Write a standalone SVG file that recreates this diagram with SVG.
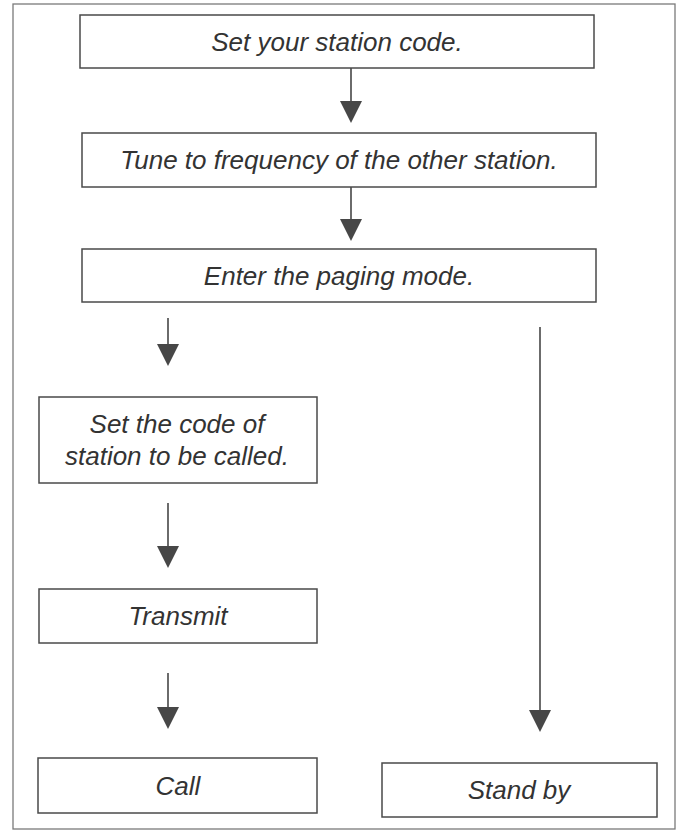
<svg xmlns="http://www.w3.org/2000/svg" width="683" height="832" viewBox="0 0 683 832">
  <style>
    .frame { fill: none; stroke: #7a7a7a; stroke-width: 1.3; }
    .box { fill: #ffffff; stroke: #4a4a4a; stroke-width: 1.5; }
    .lbl { font-family: "Liberation Sans", Arial, sans-serif; font-style: italic; font-size: 26px; fill: #333333; text-anchor: middle; }
    .conn { stroke: #474747; stroke-width: 1.6; fill: none; }
    .head { fill: #474747; stroke: none; }
  </style>
  <rect x="0" y="0" width="683" height="832" fill="#ffffff"/>
  <rect class="frame" x="13" y="4" width="662" height="825"/>

  <g id="connectors">
    <line class="conn" x1="351" y1="68" x2="351" y2="104"/>
    <polygon class="head" points="340,101 362,101 351,123"/>
    <line class="conn" x1="351" y1="187" x2="351" y2="222"/>
    <polygon class="head" points="340,219 362,219 351,241"/>
    <line class="conn" x1="168" y1="318" x2="168" y2="347"/>
    <polygon class="head" points="157,344 179,344 168,366"/>
    <line class="conn" x1="168" y1="503" x2="168" y2="549"/>
    <polygon class="head" points="157,546 179,546 168,568"/>
    <line class="conn" x1="168" y1="673" x2="168" y2="710"/>
    <polygon class="head" points="157,707 179,707 168,729"/>
    <line class="conn" x1="540" y1="327" x2="540" y2="713"/>
    <polygon class="head" points="529,710 551,710 540,732"/>
  </g>

  <g id="node-set-station-code">
    <rect class="box" x="80" y="15" width="514" height="53"/>
    <text class="lbl" x="337" y="51">Set your station code.</text>
  </g>
  <g id="node-tune-frequency">
    <rect class="box" x="82" y="133" width="514" height="54"/>
    <text class="lbl" x="339" y="169">Tune to frequency of the other station.</text>
  </g>
  <g id="node-paging-mode">
    <rect class="box" x="82" y="249" width="514" height="53"/>
    <text class="lbl" x="339" y="285">Enter the paging mode.</text>
  </g>
  <g id="node-set-code-called">
    <rect class="box" x="39" y="397" width="278" height="86"/>
    <text class="lbl" x="177" y="433">Set the code of</text>
    <text class="lbl" x="177" y="465">station to be called.</text>
  </g>
  <g id="node-transmit">
    <rect class="box" x="39" y="589" width="278" height="54"/>
    <text class="lbl" x="178" y="625">Transmit</text>
  </g>
  <g id="node-call">
    <rect class="box" x="38" y="758" width="279" height="55"/>
    <text class="lbl" x="178" y="795">Call</text>
  </g>
  <g id="node-stand-by">
    <rect class="box" x="382" y="763" width="275" height="54"/>
    <text class="lbl" x="519" y="799">Stand by</text>
  </g>
</svg>
